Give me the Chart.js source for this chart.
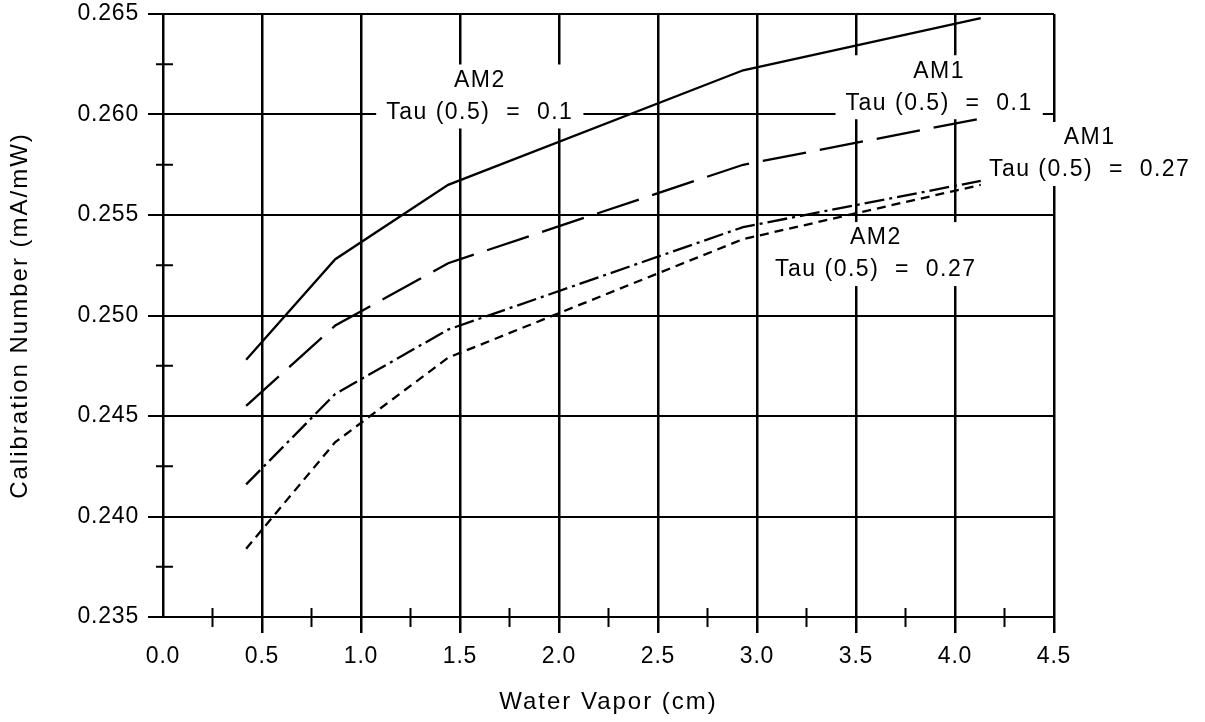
<!DOCTYPE html>
<html>
<head>
<meta charset="utf-8">
<script src="https://cdn.jsdelivr.net/npm/chart.js@4.4.1/dist/chart.umd.min.js"></script>
<style>
  html, body { margin: 0; padding: 0; background: #fff; }
  #wrap { width: 1205px; height: 722px; }
</style>
</head>
<body>
<div id="wrap"><canvas id="grafico"></canvas></div>
<script>
// water vapor (cm) at the knots of every curve
const waterVapor = [0.42, 0.87, 1.44, 2.93, 4.13];

// calibration number (mA/mW)
const am2Tau01 = [0.2478, 0.2528, 0.2565, 0.2622, 0.2648];
const am1Tau01 = [0.2455, 0.2495, 0.2526, 0.2575, 0.2598];
const am1Tau027 = [0.2416, 0.2461, 0.2493, 0.2544, 0.2567];
const am2Tau027 = [0.2384, 0.2437, 0.2479, 0.2538, 0.2565];

const xTicks = [0, 0.5, 1.0, 1.5, 2.0, 2.5, 3.0, 3.5, 4.0, 4.5];
const yTicks = [0.235, 0.240, 0.245, 0.250, 0.255, 0.260, 0.265];
const xMinor = [0.25, 0.75, 1.25, 1.75, 2.25, 2.75, 3.25, 3.75, 4.25];
const yMinor = [0.2375, 0.2425, 0.2475, 0.2525, 0.2575, 0.2625];

const curveLabels = [
    { top: 'AM2', bottom: 'Tau (0.5)  =  0.1', x: 1.60, y: 0.2601 },
    { top: 'AM1', bottom: 'Tau (0.5)  =  0.1', x: 3.92, y: 0.26056 },
    { top: 'AM1', bottom: 'Tau (0.5)  =  0.27', x: 4.68, y: 0.25724 },
    { top: 'AM2', bottom: 'Tau (0.5)  =  0.27', x: 3.60, y: 0.25226 }
];

const family = '"Liberation Sans", Arial, Helvetica, sans-serif';

function curve(values, dash) {
    return {
        data: waterVapor.map((x, i) => ({ x: x, y: values[i] })),
        showLine: true,
        borderColor: '#000',
        borderWidth: 2.3,
        borderDash: dash,
        pointRadius: 0,
        fill: false,
        tension: 0
    };
}

const extras = {
    id: 'extras',
    beforeDraw(chart) {
        chart.ctx.letterSpacing = '2px';
    },
    beforeDatasetsDraw(chart) {
        const { ctx, chartArea, scales: { x, y } } = chart;
        ctx.save();
        // minor ticks cross the axes
        ctx.strokeStyle = '#000';
        ctx.lineWidth = 2;
        ctx.beginPath();
        xMinor.forEach(v => {
            const px = x.getPixelForValue(v);
            ctx.moveTo(px, chartArea.bottom - 9);
            ctx.lineTo(px, chartArea.bottom + 10);
        });
        yMinor.forEach(v => {
            const py = y.getPixelForValue(v);
            ctx.moveTo(chartArea.left - 7, py);
            ctx.lineTo(chartArea.left + 10, py);
        });
        ctx.stroke();

        // curve labels on white boxes
        ctx.font = '23px ' + family;
        ctx.letterSpacing = '1.5px';
        ctx.textAlign = 'center';
        ctx.textBaseline = 'middle';
        curveLabels.forEach(l => {
            const cx = x.getPixelForValue(l.x);
            const cy = y.getPixelForValue(l.y);
            const w = ctx.measureText(l.bottom).width;
            ctx.fillStyle = '#fff';
            ctx.fillRect(cx - w / 2 - 10, cy - 48, w + 20, 64);
            ctx.fillStyle = '#000';
            ctx.fillText(l.top, cx, cy - 32);
            ctx.fillText(l.bottom, cx, cy);
        });
        ctx.restore();
    },
    afterDatasetsDraw(chart) {
        chart.ctx.letterSpacing = '0.8px';
    }
};

new Chart(document.getElementById('grafico'), {
    type: 'scatter',
    data: {
        datasets: [
            curve(am2Tau01, []),
            curve(am1Tau01, [44, 14]),
            curve(am1Tau027, [20, 5, 3, 5]),
            curve(am2Tau027, [9, 6])
        ]
    },
    options: {
        responsive: true,
        maintainAspectRatio: false,
        animation: false,
        layout: { padding: { top: 14, right: 151, bottom: 0, left: 0 } },
        plugins: {
            legend: { display: false },
            tooltip: { enabled: false }
        },
        scales: {
            x: {
                type: 'linear',
                min: 0,
                max: 4.5,
                afterBuildTicks: s => { s.ticks = xTicks.map(v => ({ value: v })); },
                afterFit: s => { s.height = 105; s.paddingLeft = 0; s.paddingRight = 0; },
                grid: {
                    color: '#000',
                    lineWidth: 2.5,
                    tickLength: 16,
                    tickColor: c => (c.tick && c.tick.value === 0) ? 'rgba(0,0,0,0)' : '#000'
                },
                border: { color: '#000', width: 2 },
                ticks: {
                    color: '#000',
                    font: { family: family, size: 23 },
                    padding: 10,
                    maxRotation: 0,
                    autoSkip: false,
                    z: 1,
                    callback: v => v.toFixed(1)
                },
                title: {
                    display: true,
                    text: 'Water Vapor (cm)',
                    color: '#000',
                    font: { family: family, size: 24 },
                    padding: { top: 0, bottom: 5 }
                }
            },
            y: {
                type: 'linear',
                min: 0.235,
                max: 0.265,
                afterBuildTicks: s => { s.ticks = yTicks.map(v => ({ value: v })); },
                afterFit: s => { s.width = 163; s.paddingTop = 0; s.paddingBottom = 0; },
                grid: {
                    color: '#000',
                    lineWidth: 2,
                    tickLength: 15
                },
                border: { color: '#000', width: 2 },
                ticks: {
                    color: '#000',
                    font: { family: family, size: 23 },
                    padding: 9,
                    autoSkip: false,
                    z: 1,
                    callback: v => v.toFixed(3)
                },
                title: {
                    display: true,
                    text: 'Calibration Number (mA/mW)',
                    color: '#000',
                    font: { family: family, size: 24 },
                    padding: { top: 6, bottom: 0 }
                }
            }
        }
    },
    plugins: [extras]
});
</script>
</body>
</html>
